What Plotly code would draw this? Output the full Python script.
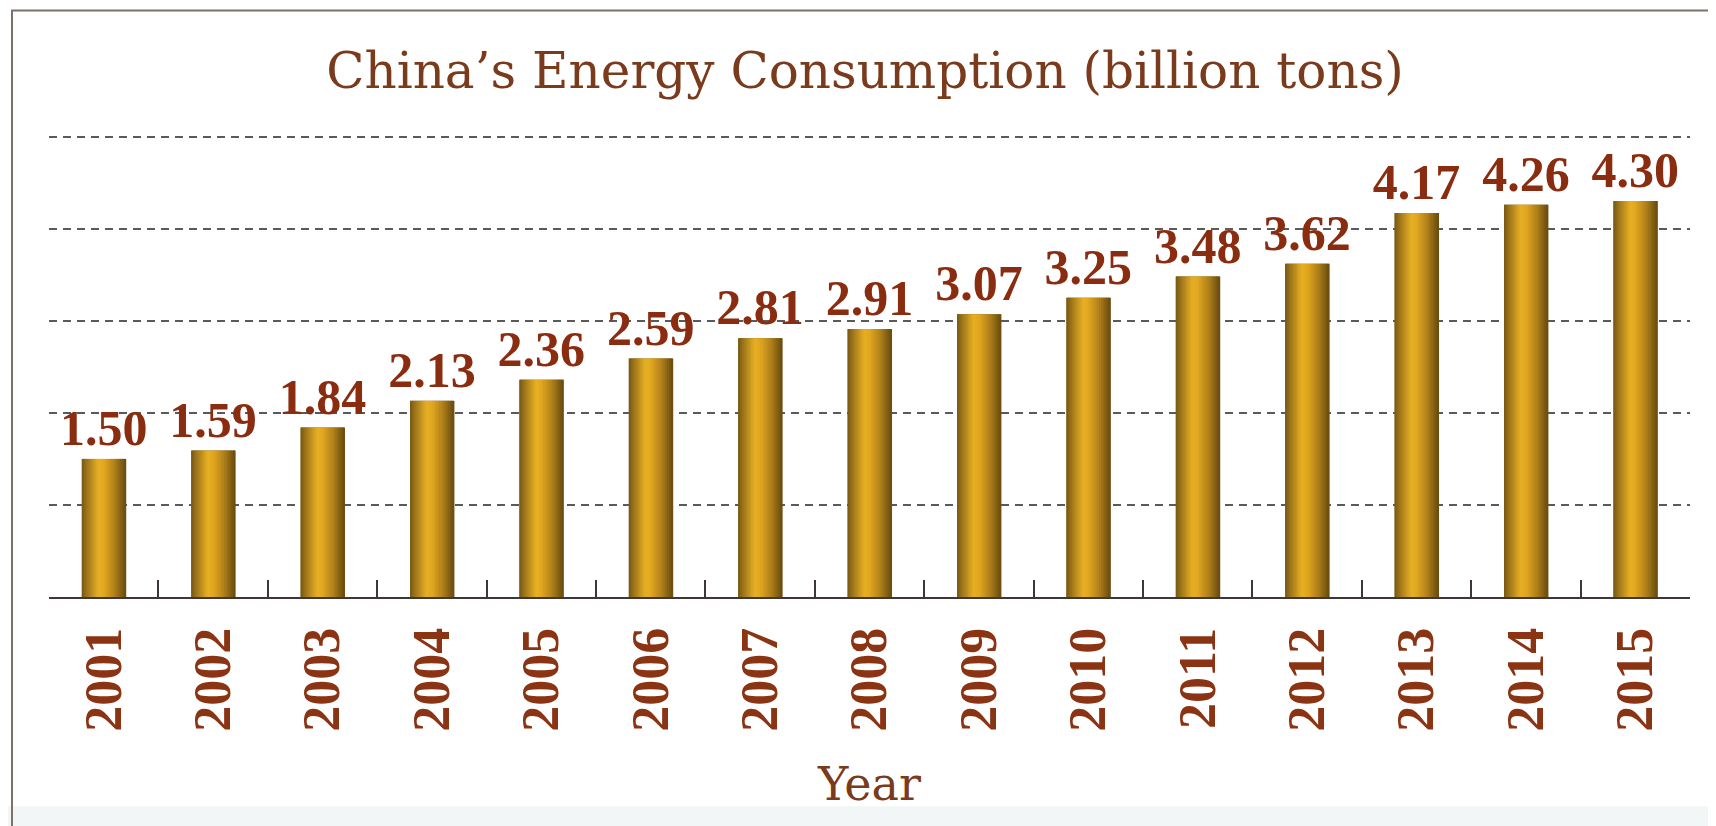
import plotly.graph_objects as go

years = ["2001", "2002", "2003", "2004", "2005", "2006", "2007", "2008",
         "2009", "2010", "2011", "2012", "2013", "2014", "2015"]
consumption = [1.50, 1.59, 1.84, 2.13, 2.36, 2.59, 2.81, 2.91,
               3.07, 3.25, 3.48, 3.62, 4.17, 4.26, 4.30]
labels = [f"{v:.2f}" for v in consumption]

title_text = "China\u2019s Energy Consumption (billion tons)"
x_title = "Year"

# horizontal gradient stops for the golden bars (position, rgb)
stops = [(0.0, (118, 88, 20)), (0.12, (158, 118, 26)), (0.38, (232, 176, 36)),
         (0.5, (226, 168, 32)), (0.75, (176, 128, 26)), (0.9, (132, 96, 20)),
         (1.0, (104, 74, 16))]


def grad(t):
    for (p0, c0), (p1, c1) in zip(stops[:-1], stops[1:]):
        if p0 <= t <= p1:
            f = (t - p0) / (p1 - p0)
            c = [round(a + (b - a) * f) for a, b in zip(c0, c1)]
            return f"rgb({c[0]},{c[1]},{c[2]})"
    return "rgb(104,74,16)"


BAR_W = 0.4
N = 24
d = BAR_W / N

fig = go.Figure()
# base bar carrying the value labels
fig.add_trace(go.Bar(
    x=years, y=consumption, width=BAR_W, marker=dict(color=grad(0.0), line=dict(width=0)),
    text=labels, textposition="outside", constraintext="none", cliponaxis=False,
    textfont=dict(family="Liberation Serif", size=50, color="#8a2c10", weight="bold"),
    showlegend=False, hoverinfo="skip"))
# gradient strips
for i in range(N):
    t = (i + 0.5) / N
    fig.add_trace(go.Bar(
        x=years, y=consumption, width=d * 1.35, offset=-BAR_W / 2 + i * d,
        marker=dict(color=grad(t), line=dict(width=0)),
        showlegend=False, hoverinfo="skip"))

# page has an 8px body margin: figure coords = page coords - 8
OFF = 8
W, H = 1716 - OFF, 826 - OFF
Y_MAX = 5.05
UNIT = 92.0  # px per unit
plot_left, plot_right, plot_bottom = 49, 1690, 597  # page px
plot_top = plot_bottom - UNIT * Y_MAX
L = plot_left - OFF
R = W - (plot_right - OFF)
T = plot_top - OFF
B = H - (plot_bottom - OFF)
pw, ph = W - L - R, H - T - B


def px_x(px):  # page px -> paper
    return (px - plot_left) / pw


def px_y(py):
    return (plot_bottom - py) / ph


fig.update_layout(
    width=W, height=H,
    margin=dict(l=L, r=R, t=T, b=B, autoexpand=False),
    paper_bgcolor="white", plot_bgcolor="white",
    barmode="overlay",
    title=dict(text=title_text, x=px_x(865), xref="paper", y=1 - (70 - OFF) / H, yref="container",
               xanchor="center", yanchor="middle",
               font=dict(family="DejaVu Serif", size=50, color="#7a3b1c")),
    xaxis=dict(
        type="category", range=[-0.5, 14.5],
        showline=True, linecolor="#3f3636", linewidth=2,
        ticks="inside", ticklen=17, tickwidth=2, tickcolor="#3f3636",
        tickson="boundaries", tickangle=-90, ticklabelstandoff=8,
        tickfont=dict(family="Liberation Serif", size=52, color="#8a3414", weight="bold"),
        showgrid=False, automargin=False,
        title=dict(text=x_title, standoff=37,
                   font=dict(family="DejaVu Serif", size=46, color="#7a3b1c")),
    ),
    yaxis=dict(
        range=[0, Y_MAX], tickvals=[1, 2, 3, 4, 5], showticklabels=False, ticks="",
        showgrid=True, gridcolor="#5a5a5a", gridwidth=2, griddash="8px,6px",
        zeroline=False, showline=False, automargin=False,
    ),
    shapes=[
        dict(type="rect", xref="paper", yref="paper",
             x0=px_x(0), x1=px_x(1730), y0=px_y(840), y1=px_y(806),
             fillcolor="#f3f6f6", line=dict(width=0), layer="below"),
        dict(type="rect", xref="paper", yref="paper",
             x0=px_x(12), x1=px_x(1730), y0=px_y(840), y1=px_y(11),
             fillcolor="rgba(0,0,0,0)", line=dict(color="#7d716a", width=2)),
    ],
)

fig.write_html("out.html")
